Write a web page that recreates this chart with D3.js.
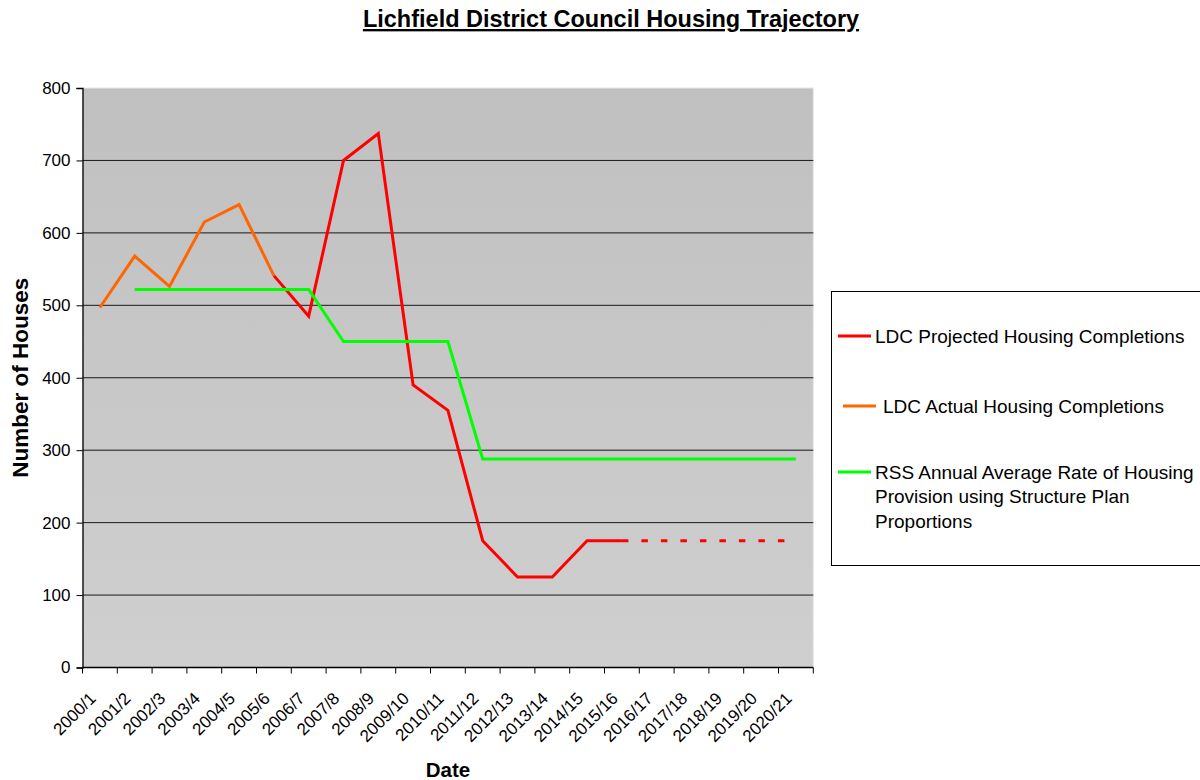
<!DOCTYPE html>
<html>
<head>
<meta charset="utf-8">
<script src="https://d3js.org/d3.v7.min.js"></script>
<style>
  body { margin:0; background:#fff; }
  text { font-family: Arial, "Liberation Sans", sans-serif; }
</style>
</head>
<body>
<div class="svg-container"></div>
<script>
//data
const categories = ['2000/1','2001/2','2002/3','2003/4','2004/5','2005/6','2006/7','2007/8','2008/9','2009/10',
                    '2010/11','2011/12','2012/13','2013/14','2014/15','2015/16','2016/17','2017/18','2018/19','2019/20','2020/21'];
const projected = [null,null,null,null,null,541,485,700,737,390,355,175,125,125,175,175,null,null,null,null,null];
const projectedDashed = [null,null,null,null,null,null,null,null,null,null,null,null,null,null,null,175,175,175,175,175,175];
const actual = [497,568,526,615,639,541,null,null,null,null,null,null,null,null,null,null,null,null,null,null,null];
const rss = [null,522,522,522,522,522,522,450,450,450,450,288,288,288,288,288,288,288,288,288,288];
const yTicks = [0,100,200,300,400,500,600,700,800];
const legendLabels = [
    ['LDC Projected Housing Completions'],
    ['LDC Actual Housing Completions'],
    ['RSS Annual Average Rate of Housing','Provision using Structure Plan','Proportions']
];

//required dimensions
const width = 1200;
const height = 780;
const plot = { left:82.5, right:813.3, top:88, bottom:667.5 };

const svg = d3.select('.svg-container')
    .append('svg')
    .attr('width', width)
    .attr('height', height);

//scales
const xScale = d3.scaleBand()
    .domain(categories)
    .range([plot.left, plot.right])
    .padding(0);

const yScale = d3.scaleLinear()
    .domain([0, 800])
    .range([plot.bottom, plot.top]);

const cx = c => xScale(c) + xScale.bandwidth()/2;

//plot background gradient
const grad = svg.append('defs').append('linearGradient')
    .attr('id', 'bg').attr('x1', 0).attr('y1', 0).attr('x2', 0).attr('y2', 1);
grad.append('stop').attr('offset', '0%').attr('stop-color', '#C0C0C0');
grad.append('stop').attr('offset', '100%').attr('stop-color', '#CFCFCF');

svg.append('rect')
    .attr('x', plot.left).attr('y', plot.top)
    .attr('width', plot.right-plot.left).attr('height', plot.bottom-plot.top)
    .attr('fill', 'url(#bg)')
    .attr('stroke', '#e8e8e8');

//gridlines
svg.selectAll('.grid')
    .data(yTicks.filter(d => d > 0 && d < 800))
    .join('line')
    .attr('class', 'grid')
    .attr('x1', plot.left).attr('x2', plot.right)
    .attr('y1', d => yScale(d)).attr('y2', d => yScale(d))
    .attr('stroke', '#1a1a1a')
    .attr('stroke-width', 1);

//y-axis
const yAxis = d3.axisLeft(yScale)
    .tickValues(yTicks)
    .tickSize(6)
    .tickPadding(6);

svg.append('g')
    .attr('class', 'y-axis')
    .attr('transform', `translate(${plot.left},0)`)
    .call(yAxis)
    .call(g => g.select('.domain').attr('stroke', '#000').attr('stroke-width', 1.3))
    .call(g => g.selectAll('.tick line').attr('stroke', '#000'))
    .call(g => g.selectAll('.tick text')
        .attr('font-size', 17)
        .attr('font-family', 'Arial, "Liberation Sans", sans-serif')
        .attr('fill', '#000'));

//x-axis: labels at band centres, ticks at band boundaries
const xAxis = d3.axisBottom(xScale)
    .tickSize(0)
    .tickPadding(0);

svg.append('g')
    .attr('class', 'x-axis')
    .attr('transform', `translate(0,${plot.bottom})`)
    .call(xAxis)
    .call(g => g.select('.domain').attr('stroke', '#000').attr('stroke-width', 1.3).attr('d', `M${plot.left},0H${plot.right}`))
    .call(g => g.selectAll('.tick text')
        .attr('font-size', 17)
        .attr('font-family', 'Arial, "Liberation Sans", sans-serif')
        .attr('fill', '#000')
        .attr('text-anchor', 'end')
        .attr('y', 0)
        .attr('dy', 0)
        .attr('transform', 'translate(-3,32) rotate(-45)'));

const boundaries = categories.map(c => xScale(c)).concat([plot.right]);
svg.append('g')
    .selectAll('line')
    .data(boundaries)
    .join('line')
    .attr('x1', d => d).attr('x2', d => d)
    .attr('y1', plot.bottom).attr('y2', plot.bottom+6)
    .attr('stroke', '#000');

//lines
const line = d3.line()
    .defined(d => d.v !== null)
    .x(d => cx(d.c))
    .y(d => yScale(d.v));

const toPts = arr => categories.map((c,i) => ({c:c, v:arr[i]}));

const series = [
    { data: projected, color:'#FF0000', dash:null },
    { data: projectedDashed, color:'#FF0000', dash:'6.5,13' },
    { data: actual, color:'#FF6600', dash:null },
    { data: rss, color:'#00FF00', dash:null }
];

svg.selectAll('.series')
    .data(series)
    .join('path')
    .attr('class', 'series')
    .attr('d', d => line(toPts(d.data)))
    .attr('fill', 'none')
    .attr('stroke', d => d.color)
    .attr('stroke-width', 3)
    .attr('stroke-dasharray', d => d.dash)
    .attr('stroke-linejoin', 'miter');

//titles
svg.append('text')
    .attr('x', 611).attr('y', 27)
    .attr('text-anchor', 'middle')
    .attr('font-size', 23.5).attr('font-weight', 'bold')
    .attr('text-decoration', 'underline')
    .text('Lichfield District Council Housing Trajectory');

svg.append('text')
    .attr('x', 448).attr('y', 777)
    .attr('text-anchor', 'middle')
    .attr('font-size', 20.5).attr('font-weight', 'bold')
    .text('Date');

svg.append('text')
    .attr('transform', `translate(28,${(plot.top+plot.bottom)/2}) rotate(-90)`)
    .attr('text-anchor', 'middle')
    .attr('font-size', 22.5).attr('font-weight', 'bold')
    .text('Number of Houses');

//legend
const legend = svg.append('g');
legend.append('rect')
    .attr('x', 831.5).attr('y', 291.5)
    .attr('width', 380).attr('height', 274)
    .attr('fill', '#fff').attr('stroke', '#000');

const legendItems = [
    { color:'#FF0000', y:336, lx:838, tx:875 },
    { color:'#FF6600', y:406, lx:843, tx:883 },
    { color:'#00FF00', y:472, lx:838, tx:875 }
];

legendItems.forEach((item, i) => {
    legend.append('line')
        .attr('x1', item.lx).attr('x2', item.lx+33)
        .attr('y1', item.y).attr('y2', item.y)
        .attr('stroke', item.color).attr('stroke-width', 3);
    legendLabels[i].forEach((t, j) => {
        legend.append('text')
            .attr('x', item.tx).attr('y', item.y + j*24.5)
            .attr('dy', '0.35em')
            .attr('font-size', 19)
            .attr('fill', '#000')
            .text(t);
    });
});
</script>
</body>
</html>
